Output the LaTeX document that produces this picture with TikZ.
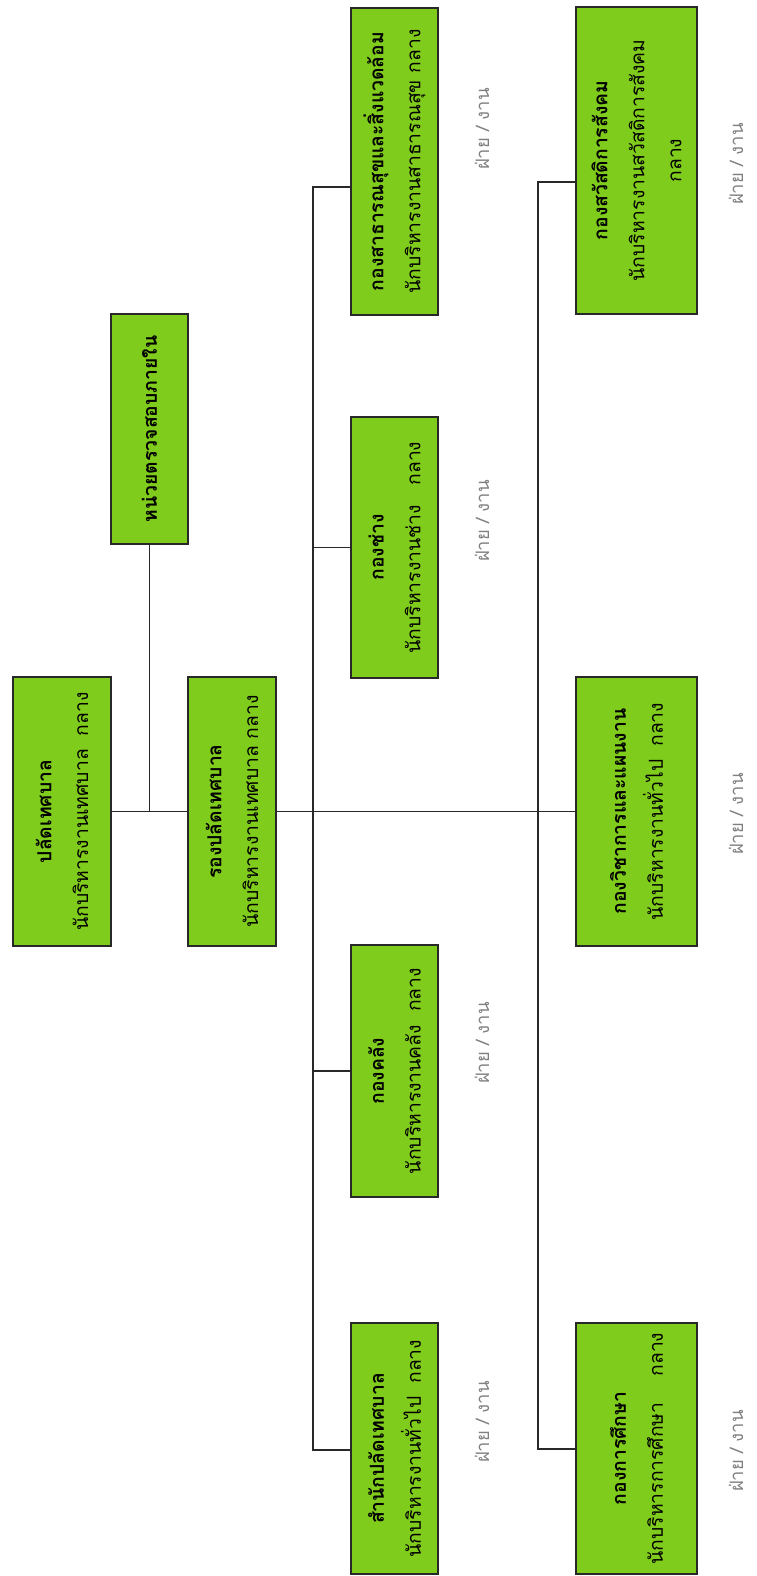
\documentclass[tikz,border=0pt]{standalone}
\usepackage{fontspec}
\newfontfamily\thaifont[Script=Thai]{Loma}
\definecolor{boxgreen}{RGB}{128,204,28}
\definecolor{linegray}{RGB}{40,40,40}
\tikzset{
  orgbox/.style={draw=linegray, line width=0.8pt, fill=boxgreen, rotate=90, align=center,
    inner sep=1pt, font=\thaifont\fontsize{11}{21}\selectfont},
  fainttext/.style={rotate=90, text=black!50, font=\thaifont\fontsize{10.5}{12}\selectfont},
  link/.style={draw=linegray, line width=0.7pt}
}
\begin{document}
\begin{tikzpicture}[x=0.02cm,y=-0.02cm]
\useasboundingbox (0,0) rectangle (757,1576);
%\def\w{87}
\path
(62,811.5) node[orgbox, minimum width=5.38cm, minimum height=1.96cm] (palad)
  {{\bfseries ปลัดเทศบาล}\\ นักบริหารงานเทศบาล\ \ กลาง}
(149.5,429) node[orgbox, minimum width=4.6cm, minimum height=1.54cm] (audit)
  {\bfseries หน่วยตรวจสอบภายใน}
(232,811.5) node[orgbox, minimum width=5.38cm, minimum height=1.76cm] (rong)
  {{\bfseries รองปลัดเทศบาล}\\ นักบริหารงานเทศบาล กลาง}
(394.5,161.5) node[orgbox, minimum width=6.14cm, minimum height=1.74cm] (health)
  {{\bfseries กองสาธารณสุขและสิ่งแวดล้อม}\\ นักบริหารงานสาธารณสุข กลาง}
(394.5,547.5) node[orgbox, minimum width=5.22cm, minimum height=1.74cm] (chang)
  {{\bfseries กองช่าง}\\ นักบริหารงานช่าง\ \ \ กลาง}
(394.5,1071) node[orgbox, minimum width=5.04cm, minimum height=1.74cm] (khlang)
  {{\bfseries กองคลัง}\\ นักบริหารงานคลัง\ \ กลาง}
(394.5,1448.5) node[orgbox, minimum width=5.02cm, minimum height=1.74cm] (samnak)
  {{\bfseries สำนักปลัดเทศบาล}\\ นักบริหารงานทั่วไป\ \ กลาง}
(636.5,160.5) node[orgbox, minimum width=6.14cm, minimum height=2.42cm] (welfare)
  {{\bfseries กองสวัสดิการสังคม}\\ นักบริหารงานสวัสดิการสังคม\\ กลาง}
(636.5,811.5) node[orgbox, minimum width=5.38cm, minimum height=2.42cm] (plan)
  {{\bfseries กองวิชาการและแผนงาน}\\ นักบริหารงานทั่วไป\ \ กลาง}
(636.5,1448.5) node[orgbox, minimum width=5.02cm, minimum height=2.42cm] (edu)
  {{\bfseries กองการศึกษา}\\ นักบริหารการศึกษา\ \ \ \ กลาง};
% ฝ่าย / งาน
\path
(482,129) node[fainttext] (lhealth) {ฝ่าย / งาน}
(482,521) node[fainttext] (lchang) {ฝ่าย / งาน}
(482,1043) node[fainttext] (lkhlang) {ฝ่าย / งาน}
(482,1422) node[fainttext] (lsamnak) {ฝ่าย / งาน}
(736,164) node[fainttext] (lwelfare) {ฝ่าย / งาน}
(736,814) node[fainttext] (lplan) {ฝ่าย / งาน}
(736,1451) node[fainttext] (ledu) {ฝ่าย / งาน};
\coordinate (mtop) at (313,187);
\coordinate (mbot) at (313,1450);
\coordinate (btop) at (538,182);
\coordinate (bbot) at (538,1449);
\draw[link] (palad.south) -- (rong.north);
\draw[link] (audit.west) -- (audit.west |- palad.south);
\draw[link] (rong.south) -- (plan.north);
\draw[link] (health.north |- mtop) -- (mtop) -- (mbot) -- (samnak.north |- mbot);
\draw[link] (mtop |- chang.north) -- (chang.north);
\draw[link] (mtop |- khlang.north) -- (khlang.north);
\draw[link] (welfare.north |- btop) -- (btop) -- (bbot) -- (edu.north |- bbot);
\end{tikzpicture}
\end{document}
